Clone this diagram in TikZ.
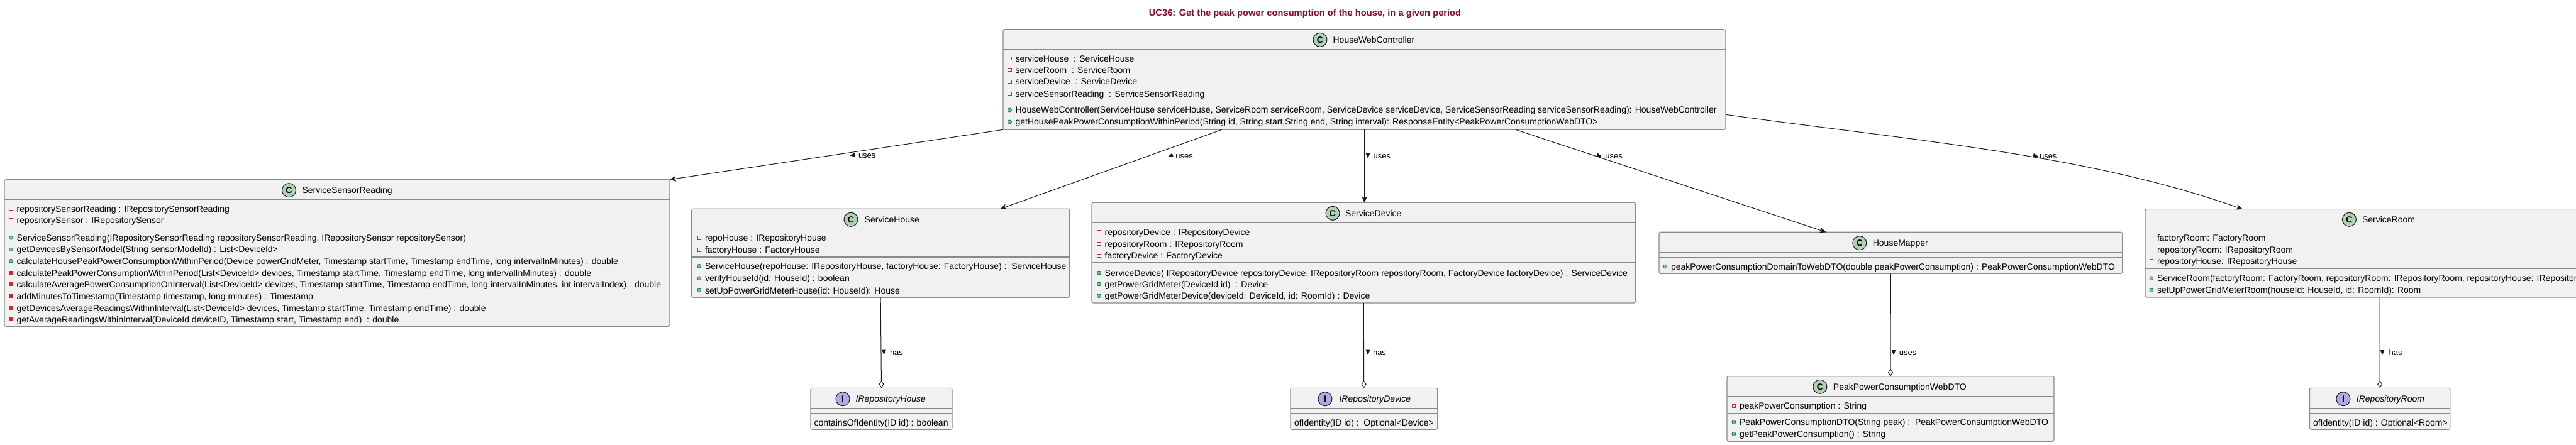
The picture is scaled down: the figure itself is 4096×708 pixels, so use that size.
\documentclass[tikz,border=0pt]{standalone}
\usepackage{fontspec}
\setmainfont{Liberation Sans}
\usetikzlibrary{arrows.meta,calc}
\definecolor{boxfill}{HTML}{F1F1F1}
\definecolor{boxline}{HTML}{8A8A8A}
\definecolor{lnk}{HTML}{181818}
\definecolor{titlec}{HTML}{8B0A2E}
\definecolor{classc}{HTML}{ADD1B2}
\definecolor{intfc}{HTML}{B4A7E5}
\definecolor{privc}{HTML}{C82930}
\definecolor{pubf}{HTML}{84BE84}
\definecolor{pubd}{HTML}{038048}
\tikzset{
  box/.style={draw=boxline, fill=boxfill, line width=1.1pt, rounded corners=2.5pt, inner sep=0pt, outer sep=0pt, anchor=north west},
  sepline/.style={draw=boxline, line width=1.1pt},
  txt/.style={inner sep=0pt, outer sep=0pt, font=\fontsize{14}{16}\selectfont},
  lbl/.style={inner sep=0pt, outer sep=0pt, font=\fontsize{13}{15}\selectfont},
  conn/.style={draw=lnk, line width=1pt},
  usesarrow/.style={conn, -{Stealth[length=10pt,width=9pt,inset=3pt]}},
  aggr/.style={conn, -{Diamond[length=12pt,width=8pt,fill=white]}},
}
\newcommand\hdr[7]{%
  \draw[fill=#4, draw=lnk, line width=1pt] (#2,#3) circle[radius=11pt];
  \node[font=\fontsize{14}{16}\selectfont\bfseries, inner sep=0pt] (#1c) at (#2,#3) {#5};
  \node[txt, anchor=base west] (#1) at (#6,#3+5) {#7};}
\newcommand\fpriv[4]{%
  \draw[draw=privc, line width=1pt] (#2-12,#3-2.7) rectangle (#2-6.6,#3+2.7);
  \node[txt, anchor=base west] (#1) at (#2,#3+5) {#4};}
\newcommand\mpub[4]{%
  \draw[fill=pubf, draw=pubd, line width=0.8pt] (#2-9.2,#3) circle[radius=3pt];
  \node[txt, anchor=base west] (#1) at (#2,#3+5) {#4};}
\newcommand\mpriv[4]{%
  \fill[privc] (#2-12.2,#3-3) rectangle (#2-6.2,#3+3);
  \node[txt, anchor=base west] (#1) at (#2,#3+5) {#4};}
\newcommand\mplain[4]{\node[txt, anchor=base west] (#1) at (#2,#3+5) {#4};}
\newcommand\linklabel[6]{%
  \fill[lnk, rotate around={#4:(#2,#3)}] (#2+4,#3) -- (#2-4,#3-3.3) -- (#2-4,#3+3.3) -- cycle;
  \node[lbl, anchor=base west] (#1) at (#5,#3+4.5) {#6};}
\begin{document}
\begin{tikzpicture}[x=1pt,y=-1pt]
\fill[white] (0,0) rectangle (4096,708);
\useasboundingbox (0,0) rectangle (4096,708);

\node[font=\fontsize{14.7}{17}\selectfont\bfseries, text=titlec, anchor=base, inner sep=0pt] (title) at (2075,26) {UC36: Get the peak power consumption of the house, in a given period};

% ---------- boxes ----------
\node[box, minimum width=1149pt, minimum height=159.6pt] (hwc) at (1595,46.7) {};
\draw[sepline] (1595,78.3) -- (2744,78.3);
\draw[sepline] (1595,162.3) -- (2744,162.3);
\node[box, minimum width=1058pt, minimum height=233.6pt] (ssr) at (7,285.7) {};
\draw[sepline] (7,317.3) -- (1065,317.3);
\draw[sepline] (7,362.3) -- (1065,362.3);
\node[box, minimum width=601.1pt, minimum height=141pt] (sh) at (1099.6,332.3) {};
\draw[sepline] (1099.6,364.3) -- (1700.7,364.3);
\draw[sepline] (1099.6,409) -- (1700.7,409);
\node[box, minimum width=864.5pt, minimum height=159.7pt] (sd) at (1736,322.3) {};
\draw[sepline] (1736,354) -- (2600.5,354);
\draw[sepline] (1736,418) -- (2600.5,418);
\node[box, minimum width=736.7pt, minimum height=66pt] (hm) at (2638,369.3) {};
\draw[sepline] (2638,401.3) -- (3374.7,401.3);
\draw[sepline] (2638,409.3) -- (3374.7,409.3);
\node[box, minimum width=746pt, minimum height=140.3pt] (sr) at (3411,332.7) {};
\draw[sepline] (3411,364.3) -- (4157,364.3);
\draw[sepline] (3411,427.3) -- (4157,427.3);
\node[box, minimum width=225pt, minimum height=66pt] (irh) at (1289,617.3) {};
\draw[sepline] (1289,649.3) -- (1514,649.3);
\draw[sepline] (1289,657.3) -- (1514,657.3);
\node[box, minimum width=233.9pt, minimum height=66pt] (ird) at (2051.8,617.3) {};
\draw[sepline] (2051.8,649.3) -- (2285.7,649.3);
\draw[sepline] (2051.8,657.3) -- (2285.7,657.3);
\node[box, minimum width=520pt, minimum height=103.6pt] (ppcw) at (2746,598.7) {};
\draw[sepline] (2746,630.3) -- (3266,630.3);
\draw[sepline] (2746,657.3) -- (3266,657.3);
\node[box, minimum width=223.2pt, minimum height=66pt] (irr) at (3672.5,617.3) {};
\draw[sepline] (3672.5,649.3) -- (3895.7,649.3);
\draw[sepline] (3672.5,657.3) -- (3895.7,657.3);

% ---------- HouseWebController ----------
\hdr{hwcH}{2099}{63.3}{classc}{C}{2119.6}{HouseWebController}
\fpriv{hwcF1}{1614.6}{93.3}{serviceHouse\ \ : ServiceHouse}
\fpriv{hwcF2}{1614.6}{111.3}{serviceRoom\ \ : ServiceRoom}
\fpriv{hwcF3}{1614.6}{130}{serviceDevice\ \ : ServiceDevice}
\fpriv{hwcF4}{1614.6}{149.3}{serviceSensorReading\ \ : ServiceSensorReading}
\mpub{hwcM1}{1614.6}{175}{HouseWebController(ServiceHouse serviceHouse, ServiceRoom serviceRoom, ServiceDevice serviceDevice, ServiceSensorReading serviceSensorReading): HouseWebController}
\mpub{hwcM2}{1614.6}{194}{getHousePeakPowerConsumptionWithinPeriod(String id, String start,String end, String interval): ResponseEntity<PeakPowerConsumptionWebDTO>}

% ---------- ServiceSensorReading ----------
\hdr{ssrH}{459.5}{302.7}{classc}{C}{480.5}{ServiceSensorReading}
\fpriv{ssrF1}{26.7}{332.3}{repositorySensorReading : IRepositorySensorReading}
\fpriv{ssrF2}{26.7}{350.7}{repositorySensor : IRepositorySensor}
\mpub{ssrM1}{26.7}{378.3}{ServiceSensorReading(IRepositorySensorReading repositorySensorReading, IRepositorySensor repositorySensor)}
\mpub{ssrM2}{26.7}{397}{getDevicesBySensorModel(String sensorModelId) : List<DeviceId>}
\mpub{ssrM3}{26.7}{415.3}{calculateHousePeakPowerConsumptionWithinPeriod(Device powerGridMeter, Timestamp startTime, Timestamp endTime, long intervalInMinutes) : double}
\mpriv{ssrM4}{26.7}{434}{calculatePeakPowerConsumptionWithinPeriod(List<DeviceId> devices, Timestamp startTime, Timestamp endTime, long intervalInMinutes) : double}
\mpriv{ssrM5}{26.7}{452.3}{calculateAveragePowerConsumptionOnInterval(List<DeviceId> devices, Timestamp startTime, Timestamp endTime, long intervalInMinutes, int intervalIndex) : double}
\mpriv{ssrM6}{26.7}{471}{addMinutesToTimestamp(Timestamp timestamp, long minutes) : Timestamp}
\mpriv{ssrM7}{26.7}{490}{getDevicesAverageReadingsWithinInterval(List<DeviceId> devices, Timestamp startTime, Timestamp endTime) : double}
\mpriv{ssrM8}{26.7}{508}{getAverageReadingsWithinInterval(DeviceId deviceID, Timestamp start, Timestamp end)\ \ : double}

% ---------- ServiceHouse ----------
\hdr{shH}{1353}{349.3}{classc}{C}{1374.7}{ServiceHouse}
\fpriv{shF1}{1121}{378.7}{repoHouse : IRepositoryHouse}
\fpriv{shF2}{1121}{397.7}{factoryHouse : FactoryHouse}
\mpub{shM1}{1121}{423.3}{ServiceHouse(repoHouse: IRepositoryHouse, factoryHouse: FactoryHouse) :\ \ ServiceHouse}
\mpub{shM2}{1121}{442.7}{verifyHouseId(id: HouseId) : boolean}
\mpub{shM3}{1121}{462}{setUpPowerGridMeterHouse(id: HouseId): House}

% ---------- ServiceDevice ----------
\hdr{sdH}{2119}{339.3}{classc}{C}{2139}{ServiceDevice}
\fpriv{sdF1}{1756.7}{369.7}{repositoryDevice : IRepositoryDevice}
\fpriv{sdF2}{1756.7}{388.3}{repositoryRoom : IRepositoryRoom}
\fpriv{sdF3}{1756.7}{407}{factoryDevice : FactoryDevice}
\mpub{sdM1}{1756.7}{434}{ServiceDevice( IRepositoryDevice repositoryDevice, IRepositoryRoom repositoryRoom, FactoryDevice factoryDevice) : ServiceDevice}
\mpub{sdM2}{1756.7}{452}{getPowerGridMeter(DeviceId id)\ \ : Device}
\mpub{sdM3}{1756.7}{470.7}{getPowerGridMeterDevice(deviceId: DeviceId, id: RoomId) : Device}

% ---------- HouseMapper ----------
\hdr{hmH}{2956.8}{386.7}{classc}{C}{2977.8}{HouseMapper}
\mpub{hmM1}{2657}{424}{peakPowerConsumptionDomainToWebDTO(double peakPowerConsumption) : PeakPowerConsumptionWebDTO}

% ---------- ServiceRoom ----------
\hdr{srH}{3735.4}{349.3}{classc}{C}{3756}{ServiceRoom}
\fpriv{srF1}{3430}{378.3}{factoryRoom: FactoryRoom}
\fpriv{srF2}{3430}{397.3}{repositoryRoom: IRepositoryRoom}
\fpriv{srF3}{3430}{415.3}{repositoryHouse: IRepositoryHouse}
\mpub{srM1}{3430}{442.7}{ServiceRoom(factoryRoom: FactoryRoom, repositoryRoom: IRepositoryRoom, repositoryHouse: IRepositoryHouse)}
\mpub{srM2}{3430}{461.7}{setUpPowerGridMeterRoom(houseId: HouseId, id: RoomId): Room}

% ---------- PeakPowerConsumptionWebDTO ----------
\hdr{ppH}{2893.9}{615.3}{classc}{C}{2914.9}{PeakPowerConsumptionWebDTO}
\fpriv{ppF1}{2766}{645.7}{peakPowerConsumption : String}
\mpub{ppM1}{2766}{671.3}{PeakPowerConsumptionDTO(String peak) :\ \ PeakPowerConsumptionWebDTO}
\mpub{ppM2}{2766}{690.3}{getPeakPowerConsumption() : String}

% ---------- interfaces ----------
\hdr{irhH}{1340}{634.7}{intfc}{I}{1360.7}{\itshape IRepositoryHouse}
\mplain{irhM1}{1294.6}{672}{containsOfIdentity(ID id) : boolean}
\hdr{irdH}{2107}{634.7}{intfc}{I}{2129.5}{\itshape IRepositoryDevice}
\mplain{irdM1}{2058}{672}{ofIdentity(ID id) :\ \ Optional<Device>}
\hdr{irrH}{3725.9}{634.7}{intfc}{I}{3746.9}{\itshape IRepositoryRoom}
\mplain{irrM1}{3678}{672}{ofIdentity(ID id) : Optional<Room>}

% ---------- connectors ----------
\draw[usesarrow] (hwc.south west) -- (ssr.north east);
\draw[usesarrow] ($(hwc.south west)+(347.7,0)$) -- ($(sh.north west)+(491.1,0)$);
\draw[usesarrow] (hwc.south) -- (hwc.south |- sd.north);
\draw[usesarrow] ($(hwc.south west)+(815,0)$) -- ($(hm.north west)+(265.4,0)$);
\draw[usesarrow] ($(hwc.north east)+(0,135.6)$) .. controls (3044,224) and (3318,245.2) .. ($(sr.north west)+(154.5,0)$);
\draw[aggr] (sh.south) -- (irh.north);
\draw[aggr] (sd.south) -- (ird.north);
\draw[aggr] (hm.south) -- (ppcw.north);
\draw[aggr] (sr.south) -- (irr.north);

% ---------- connector labels ----------
\linklabel{l1}{1355.5}{247}{188.8}{1365}{uses}
\linklabel{l2}{1861}{248}{199.7}{1869.3}{uses}
\linklabel{l3}{2175}{248}{270}{2183.5}{uses}
\linklabel{l4}{2543}{248}{-18.3}{2552.3}{uses}
\linklabel{l5}{3237}{248}{-12}{3243}{uses}
\linklabel{l6}{1405.5}{560.7}{270}{1415}{has}
\linklabel{l7}{2175}{560.7}{270}{2183}{has}
\linklabel{l8}{3011}{561}{270}{3019.8}{uses}
\linklabel{l9}{3788}{561}{270}{3798.5}{has}
\end{tikzpicture}
\end{document}
